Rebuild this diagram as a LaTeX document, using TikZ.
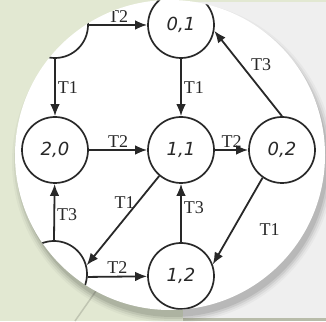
\documentclass[tikz,border=0pt]{standalone}
\usepackage{fontspec}
\setmainfont{Liberation Serif}
\newfontfamily\statefont{DejaVu Sans}
\usetikzlibrary{arrows.meta, positioning}
\definecolor{slidegreen}{RGB}{226,232,210}
\definecolor{panelgray}{RGB}{239,239,239}
\definecolor{panelline}{RGB}{184,188,170}
\definecolor{inkgray}{RGB}{40,40,40}
\tikzset{
	state/.style={
		draw=inkgray,
		circle,
		line width=1.7pt,
		inner sep=0pt,
		minimum size=66pt,
		text=inkgray,
		font=\statefont\itshape\fontsize{18}{18}\selectfont
	},
	edge/.style={-{Latex[length=12pt,width=9.5pt]}, line width=1.8pt, draw=inkgray},
	tlabel/.style={text=inkgray, inner sep=2pt, font=\fontsize{18}{18}\selectfont}
}

\begin{document}
\begin{tikzpicture}[x=1pt,y=1pt]
	\useasboundingbox (0,0) rectangle (326,321);
	% slide behind the picture
	\fill[slidegreen] (0,0) rectangle (326,321);
	\fill[panelgray] (183,3) rectangle (326,319);
	\fill[panelline] (183,0) rectangle (326,3);
	\draw[line width=1.5pt, slidegreen!85!black] (75,0) -- (110,50);
	
	% round frame with its shadow
	\foreach \r/\o in {161/0.03, 159/0.05, 157/0.07, 155/0.09}
		\fill[black, opacity=\o] (173,159) circle (\r);
	\fill[white] (170,166) circle (155);
	
	\begin{scope}
	\clip (170,166) circle (155);
	
	\node(sTL) at (55,296) [state] {};
	\node(s01) at (181,296) [state] {0,1};
	\node(s20) at (55,171) [state] {2,0};
	\node(s11) at (181,171) [state] {1,1};
	\node(s02) at (282,171) [state] {0,2};
	\node(sBL) at (54,47) [state] {};
	\node(s12) at (181,45) [state] {1,2};
	
	\draw[edge](sTL) -- node[tlabel, above]{T2} (s01);
	\draw[edge](sTL) -- node[tlabel, right]{T1} (s20);
	\draw[edge](s20) -- node[tlabel, above]{T2} (s11);
	\draw[edge](s01) -- node[tlabel, right]{T1} (s11);
	\draw[edge](s11) -- node[tlabel, above]{T2} (s02);
	\draw[edge](s02.north) -- node[tlabel, above right]{T3} (s01.-10);
	\draw[edge](s02.-125) -- node[tlabel, right=24pt, pos=0.6]{T1} (s12.20);
	\draw[edge](s11.-130) -- node[tlabel, left, pos=0.3]{T1} (sBL.15);
	\draw[edge](s12) -- node[tlabel, right, pos=0.6]{T3} (s11);
	\draw[edge](sBL.north) -- node[tlabel, right, pos=0.46]{T3} (s20);
	\draw[edge](sBL.-5) -- node[tlabel, above]{T2} (s12);
	\end{scope}
\end{tikzpicture}
\end{document}
